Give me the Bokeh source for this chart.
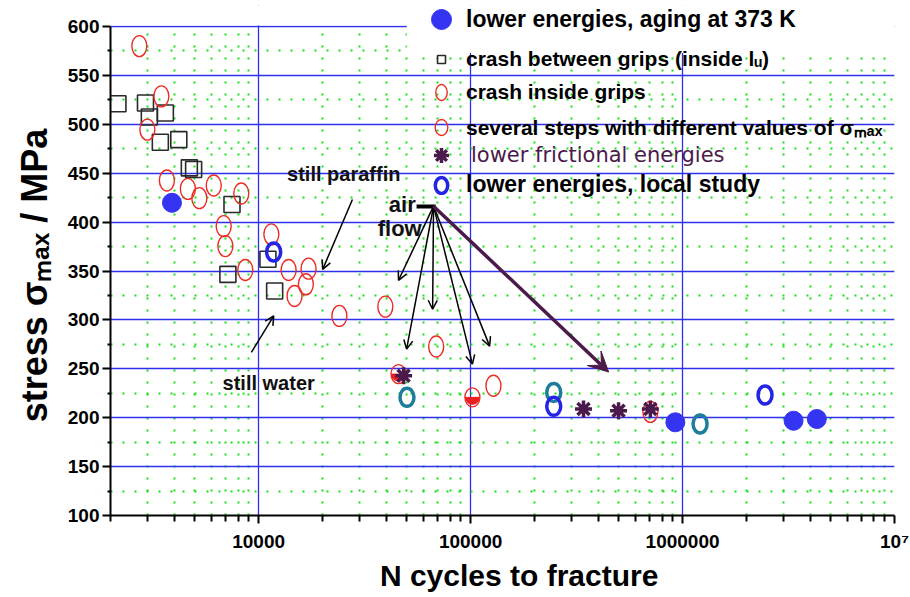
import math
from bokeh.plotting import figure
from bokeh.models import (FixedTicker, Legend, LegendItem, Arrow, OpenHead, VeeHead,
                          ColumnDataSource, BoxAnnotation)
from bokeh.core.properties import value
from bokeh.embed import file_html
from bokeh.resources import INLINE

# ---------------- data (N cycles, stress MPa) ----------------
inside_grips_n = [2735, 3475, 2985, 3690, 4635, 5250, 6140, 8280, 6840, 6965, 8650,
                  11480, 13850, 17200, 16700, 14770, 24040, 39600, 68800, 128200, 705000]
inside_grips_s = [580, 528.6, 494.6, 442.6, 434, 424.5, 437.4, 429.3, 395.9, 375.5, 351,
                  387.5, 351, 352.4, 336.4, 324.5, 304.1, 313.6, 272.8, 232.7, 206]

between_grips_n = [2168, 2925, 3050, 3630, 3437, 4200, 4710, 4934, 7486, 7160, 11060, 11900]
between_grips_s = [521.1, 521.8, 507.5, 511.6, 481.6, 484.4, 455.5, 453.8, 418, 346.6, 362, 329.6]

aging_n = [3900, 924600, 3340000, 4300000]
aging_s = [419.8, 195.3, 196.9, 198.7]

steps_n = [45700, 102000]
steps_s = [244.6, 220.8]

friction_n = [48300, 341000, 499000, 705000]
friction_s = [242.9, 208.9, 207.1, 208.9]

local_blue_n = [11770, 246700, 2450000]
local_blue_s = [369.4, 211.6, 223.2]
local_teal_n = [50100, 246700, 1210000]
local_teal_s = [220.8, 225.9, 193.6]

# annotation positions (N cycles, MPa)
note_text = ["still paraffin", "still water"]
note_n = [25200, 11150]
note_s = [448.7, 235.5]
flow_text = ["flow"]
flow_n = [46300]
flow_s = [393.6]
air_n = [55100]
air_s = [418]
bar_n0, bar_n1, bar_s = [55600], [68400], [416]

arrow_n0 = [27700, 9240, 66850, 66850, 66850, 66850, 66850]
arrow_s0 = [423.1, 266.7, 416.3, 416.3, 416.3, 416.3, 416.3]
arrow_n1 = [20050, 11780, 45700, 49900, 66200, 102000, 123000]
arrow_s1 = [351.7, 304.1, 340.5, 270.1, 310.9, 254.8, 273.2]
big_arrow_n0, big_arrow_s0 = [66850], [416.3]
big_arrow_n1, big_arrow_s1 = [448000], [246.7]

x_major = [10000, 100000, 1000000, 10000000]
x_minor = [m * 10 ** e for e in (3, 4, 5, 6) for m in range(2, 10)]
y_major = list(range(100, 601, 50))
y_minor = list(range(125, 600, 50))

BOLD = "Liberation Sans"
NBSP = "\u00a0"

p = figure(width=909, height=595, x_axis_type="log", x_range=(2000, 1e7), y_range=(100, 621.5),
           output_backend="svg", toolbar_location=None,
           min_border_left=110, min_border_right=15, min_border_top=5, min_border_bottom=80)
p.outline_line_color = None

# axes
for ax in (p.xaxis[0], p.yaxis[0]):
    ax.axis_line_color = "black"
    ax.axis_line_width = 2
    ax.major_tick_line_color = "black"
    ax.minor_tick_line_color = "black"
    ax.major_tick_line_width = 2
    ax.minor_tick_line_width = 2
    ax.major_tick_in = 0
    ax.minor_tick_in = 0
    ax.major_label_text_font = BOLD
    ax.major_label_text_font_style = "bold"
    ax.major_label_text_font_size = "19px"
    ax.major_label_text_color = "black"
    ax.axis_label_text_font = BOLD
    ax.axis_label_text_font_style = "bold"
    ax.axis_label_text_color = "black"

p.yaxis.bounds = (100, 600)
p.xaxis.ticker = FixedTicker(ticks=x_major, minor_ticks=x_minor)
p.yaxis.ticker = FixedTicker(ticks=y_major, minor_ticks=y_minor)
p.xaxis.major_label_overrides = {10000: "10000", 100000: "100000", 1000000: "1000000",
                                 10000000: "10\u2077"}
p.xaxis.major_tick_out = 8
p.xaxis.minor_tick_out = 6
p.yaxis.major_tick_out = 8
p.yaxis.minor_tick_out = 3
p.xaxis.major_label_standoff = 7
p.yaxis.major_label_standoff = 3
p.xaxis.axis_label = NBSP * 4 + "N cycles to fracture"
p.xaxis.axis_label_text_font_size = "30px"
p.xaxis.axis_label_standoff = 4
p.yaxis.axis_label = "stress \u03c3\u2098\u2090\u2093 / MPa" + NBSP * 3
p.yaxis.axis_label_text_font_size = "36px"
p.yaxis.axis_label_standoff = 10

# grids
for g in (p.xgrid[0], p.ygrid[0]):
    g.grid_line_color = "#2f2ff0"
    g.grid_line_width = 1.3
    g.minor_grid_line_color = "#19e019"
    g.minor_grid_line_width = 2
    g.minor_grid_line_dash = "2 10"

# white areas: above the 600 line, and behind the legend header
p.add_layout(BoxAnnotation(bottom=601, fill_color="white", fill_alpha=1,
                           line_color=None, level="underlay"))
p.add_layout(BoxAnnotation(left=50000, bottom=573, fill_color="white", fill_alpha=1,
                           line_color=None, level="underlay"))

# glyphs
r_sq = p.scatter(between_grips_n, between_grips_s, marker="square", size=16,
                 fill_color=None, line_color="#2a2a2a", line_width=1.6)
r_red = p.ellipse(inside_grips_n, inside_grips_s, width=15, height=21,
                  width_units="screen", height_units="screen",
                  fill_color=None, line_color="#ec2b24", line_width=1.4)
r_half_w = p.wedge(steps_n, steps_s, radius=7, radius_units="screen",
                   start_angle=math.pi, end_angle=2 * math.pi, color="#ec2020")
r_half_e = p.ellipse(steps_n, steps_s, width=15, height=19,
                     width_units="screen", height_units="screen",
                     fill_color=None, line_color="#ec2b24", line_width=1.4)
r_teal = p.ellipse(local_teal_n, local_teal_s, width=14, height=18,
                   width_units="screen", height_units="screen",
                   fill_color=None, line_color="#1f7d9c", line_width=3.5)
r_local = p.ellipse(local_blue_n, local_blue_s, width=14, height=18,
                    width_units="screen", height_units="screen",
                    fill_color=None, line_color="#2424e6", line_width=3.5)
r_star = p.scatter(friction_n, friction_s, marker="asterisk", size=17,
                   line_color="#4b1a4b", line_width=3.5)
r_blue = p.scatter(aging_n, aging_s, marker="circle", size=19,
                   fill_color="#3434f2", line_color="#3434f2")

# text notes
p.text(note_n, note_s, text=note_text, text_font=value(BOLD), text_font_style="bold",
       text_font_size="20px", text_align="center", text_baseline="middle", text_color="#111111")
p.text(flow_n, flow_s, text=flow_text, text_font=value(BOLD), text_font_style="bold",
       text_font_size="22px", text_align="center", text_baseline="middle", text_color="#111111")
p.text(air_n, air_s, text=["air"], text_font=value(BOLD), text_font_style="bold",
       text_font_size="22px", text_align="right", text_baseline="middle", text_color="#111111")
p.segment(bar_n0, bar_s, bar_n1, bar_s, line_color="black", line_width=4)

arrows = ColumnDataSource(dict(x0=arrow_n0, y0=arrow_s0, x1=arrow_n1, y1=arrow_s1))
p.add_layout(Arrow(source=arrows, x_start="x0", y_start="y0", x_end="x1", y_end="y1",
                   line_color="black", line_width=1.5,
                   end=OpenHead(size=9, line_width=1.5, line_color="black")))
big = ColumnDataSource(dict(x0=big_arrow_n0, y0=big_arrow_s0, x1=big_arrow_n1, y1=big_arrow_s1))
p.add_layout(Arrow(source=big, x_start="x0", y_start="y0", x_end="x1", y_end="y1",
                   line_color="#4b1a4b", line_width=3.5,
                   end=VeeHead(size=20, fill_color="#4b1a4b", line_color="#4b1a4b")))


def make_legend(items, loc, font, size, style, color, spacing=0, glyph=20, standoff=15):
    lg = Legend(items=items, location=loc, border_line_color=None,
                background_fill_alpha=0, padding=0, margin=0, spacing=spacing,
                glyph_width=glyph, glyph_height=glyph, label_standoff=standoff,
                label_text_font=font, label_text_font_size=size,
                label_text_font_style=style, label_text_color=color)
    p.add_layout(lg)
    return lg


# legend locations: bottom-left corner, pixels from the frame's bottom-left
make_legend([LegendItem(label="lower energies, aging at 373 K", renderers=[r_blue])],
            (306, 471), BOLD, "23px", "bold", "black", glyph=50, standoff=0)
make_legend([LegendItem(label="crash between grips (inside l\u1d64)", renderers=[r_sq]),
             LegendItem(label="crash inside grips", renderers=[r_red]),
             LegendItem(label="several steps with different values of \u03c3\u2098\u2090\u2093",
                        renderers=[r_half_e])],
            (321, 374), BOLD, "21px", "bold", "black", spacing=9)
make_legend([LegendItem(label="lower frictional energies", renderers=[r_star])],
            (312, 341), "DejaVu Sans", "21px", "normal", "#4b1a4b", glyph=38, standoff=11)
make_legend([LegendItem(label="lower energies, local study", renderers=[r_local])],
            (321, 317), BOLD, "23px", "bold", "black")

open("out.html", "w").write(file_html(p, INLINE))
